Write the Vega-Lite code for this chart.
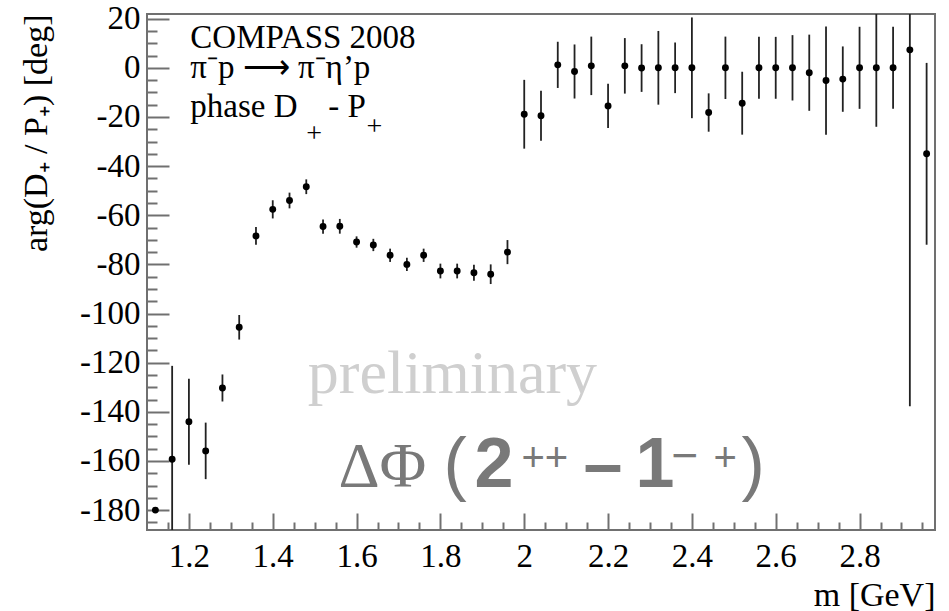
{
  "$schema": "https://vega.github.io/schema/vega-lite/v6.json",
  "width": 788,
  "height": 516,
  "autosize": {"type": "none"},
  "padding": {"left": 147, "top": 14, "right": 14, "bottom": 81},
  "background": "white",
  "config": {
    "view": {"stroke": "#707070", "strokeWidth": 2},
    "font": "Liberation Serif",
    "axis": {"labelFont": "Liberation Serif", "titleFont": "Liberation Serif"}
  },
  "data": {
    "values": [
      {"m": 1.12, "phase": -180, "lo": -180, "hi": -180},
      {"m": 1.16, "phase": -159.3, "lo": -197.3, "hi": -121.3},
      {"m": 1.20, "phase": -144, "lo": -161.5, "hi": -126.5},
      {"m": 1.24, "phase": -155.9, "lo": -167.4, "hi": -144.4},
      {"m": 1.28, "phase": -130.3, "lo": -135.8, "hi": -124.8},
      {"m": 1.32, "phase": -105.6, "lo": -110.6, "hi": -100.6},
      {"m": 1.36, "phase": -68.4, "lo": -72.0, "hi": -64.8},
      {"m": 1.40, "phase": -57.6, "lo": -61.3, "hi": -53.9},
      {"m": 1.44, "phase": -54.0, "lo": -57.2, "hi": -50.8},
      {"m": 1.48, "phase": -48.4, "lo": -51.4, "hi": -45.4},
      {"m": 1.52, "phase": -64.6, "lo": -67.5, "hi": -61.7},
      {"m": 1.56, "phase": -64.5, "lo": -67.5, "hi": -61.5},
      {"m": 1.60, "phase": -70.9, "lo": -73.2, "hi": -68.6},
      {"m": 1.64, "phase": -72.1, "lo": -74.6, "hi": -69.6},
      {"m": 1.68, "phase": -76.3, "lo": -79.0, "hi": -73.6},
      {"m": 1.72, "phase": -80.0, "lo": -82.7, "hi": -77.3},
      {"m": 1.76, "phase": -76.3, "lo": -79.0, "hi": -73.6},
      {"m": 1.80, "phase": -82.7, "lo": -85.7, "hi": -79.7},
      {"m": 1.84, "phase": -82.7, "lo": -85.7, "hi": -79.7},
      {"m": 1.88, "phase": -83.4, "lo": -86.7, "hi": -80.1},
      {"m": 1.92, "phase": -84.0, "lo": -88.0, "hi": -80.0},
      {"m": 1.96, "phase": -75.0, "lo": -79.9, "hi": -70.1},
      {"m": 2.00, "phase": -18.9, "lo": -32.9, "hi": -4.9},
      {"m": 2.04, "phase": -19.5, "lo": -29.7, "hi": -9.3},
      {"m": 2.08, "phase": 1.2, "lo": -8.2, "hi": 10.6},
      {"m": 2.12, "phase": -1.5, "lo": -12.5, "hi": 9.5},
      {"m": 2.16, "phase": 0.8, "lo": -11.1, "hi": 12.7},
      {"m": 2.20, "phase": -15.5, "lo": -24.5, "hi": -6.5},
      {"m": 2.24, "phase": 0.8, "lo": -10.5, "hi": 12.1},
      {"m": 2.28, "phase": -0.1, "lo": -9.8, "hi": 9.6},
      {"m": 2.32, "phase": 0, "lo": -15, "hi": 15},
      {"m": 2.36, "phase": 0, "lo": -10.3, "hi": 10.3},
      {"m": 2.40, "phase": 0, "lo": -20.5, "hi": 20.5},
      {"m": 2.44, "phase": -18.2, "lo": -26.0, "hi": -10.4},
      {"m": 2.48, "phase": 0, "lo": -12.7, "hi": 12.7},
      {"m": 2.52, "phase": -14.4, "lo": -27.2, "hi": -1.6},
      {"m": 2.56, "phase": 0, "lo": -12.6, "hi": 12.6},
      {"m": 2.60, "phase": 0, "lo": -12.6, "hi": 12.6},
      {"m": 2.64, "phase": 0, "lo": -13.3, "hi": 13.3},
      {"m": 2.68, "phase": -2.0, "lo": -17.5, "hi": 13.5},
      {"m": 2.72, "phase": -5.2, "lo": -27.2, "hi": 16.8},
      {"m": 2.76, "phase": -4.6, "lo": -17.9, "hi": 8.7},
      {"m": 2.80, "phase": 0, "lo": -16.7, "hi": 16.7},
      {"m": 2.84, "phase": 0, "lo": -24, "hi": 24},
      {"m": 2.88, "phase": 0, "lo": -16.7, "hi": 16.7},
      {"m": 2.92, "phase": 7.3, "lo": -137.7, "hi": 152.3},
      {"m": 2.96, "phase": -35.0, "lo": -72.0, "hi": 2.0}
    ]
  },
  "layer": [
    {
      "layer": [
        {
          "mark": {"type": "rule", "clip": true, "color": "#222222", "strokeWidth": 1.8},
          "encoding": {
            "x": {
              "field": "m", "type": "quantitative",
              "scale": {"domain": [1.1, 2.98], "nice": false, "zero": false},
              "axis": {
                "orient": "bottom",
                "values": [1.2, 1.4, 1.6, 1.8, 2, 2.2, 2.4, 2.6, 2.8],
                "labelExpr": "'' + datum.value",
                "tickSize": -17, "tickColor": "#707070", "tickWidth": 2,
                "domain": false, "grid": false,
                "labelFont": "Liberation Serif", "labelFontSize": 33, "labelColor": "black",
                "labelPadding": 27, "labelFlush": false, "labelOverlap": false, "labelBound": false,
                "title": "m [GeV]", "titleFont": "Liberation Serif", "titleFontSize": 34,
                "titleFontWeight": "normal", "titleColor": "black",
                "titleAnchor": "end", "titleAlign": "right", "titleBaseline": "alphabetic",
                "titleX": 788, "titleY": 75
              }
            },
            "y": {
              "field": "lo", "type": "quantitative",
              "scale": {"domain": [-188.1, 21.9], "nice": false, "zero": false},
              "axis": {
                "orient": "left",
                "values": [-180, -160, -140, -120, -100, -80, -60, -40, -20, 0, 20],
                "labelExpr": "'' + datum.value",
                "tickSize": -22, "tickColor": "#707070", "tickWidth": 2,
                "domain": false, "grid": false,
                "labelFont": "Liberation Serif", "labelFontSize": 33, "labelColor": "black",
                "labelPadding": 29, "labelFlush": false, "labelOverlap": false, "labelBound": false,
                "title": "arg(D₊ / P₊) [deg]", "titleFont": "Liberation Serif", "titleFontSize": 34,
                "titleFontWeight": "normal", "titleColor": "black",
                "titleAngle": -90, "titleAlign": "right", "titleBaseline": "alphabetic",
                "titleX": -101, "titleY": 0
              }
            },
            "y2": {"field": "hi"}
          }
        },
        {
          "mark": {"type": "circle", "size": 48, "color": "black", "opacity": 1, "clip": true},
          "encoding": {
            "x": {"field": "m", "type": "quantitative"},
            "y": {"field": "phase", "type": "quantitative"}
          }
        },
        {
          "data": {"values": [{"label": "one"}]},
          "layer": [
            {
              "mark": {"type": "text", "text": "COMPASS 2008", "font": "Liberation Serif", "fontSize": 33, "align": "left", "baseline": "alphabetic", "color": "black"},
              "encoding": {"x": {"datum": 1.2033}, "y": {"datum": 8.1}}
            },
            {
              "mark": {"type": "text", "text": "π⁻p ⟶ π⁻η’p", "font": "Liberation Serif", "fontSize": 33, "align": "left", "baseline": "alphabetic", "color": "black"},
              "encoding": {"x": {"datum": 1.2033}, "y": {"datum": -4.1}}
            },
            {
              "mark": {"type": "text", "text": "phase D", "font": "Liberation Serif", "fontSize": 33, "align": "left", "baseline": "alphabetic", "color": "black"},
              "encoding": {"x": {"datum": 1.2033}, "y": {"datum": -19.9}}
            },
            {
              "mark": {"type": "text", "text": "+", "font": "Liberation Serif", "fontSize": 28, "align": "left", "baseline": "alphabetic", "color": "black"},
              "encoding": {"x": {"datum": 1.4802}, "y": {"datum": -30.1}}
            },
            {
              "mark": {"type": "text", "text": "- P", "font": "Liberation Serif", "fontSize": 33, "align": "left", "baseline": "alphabetic", "color": "black"},
              "encoding": {"x": {"datum": 1.5327}, "y": {"datum": -19.9}}
            },
            {
              "mark": {"type": "text", "text": "+", "font": "Liberation Serif", "fontSize": 28, "align": "left", "baseline": "alphabetic", "color": "black"},
              "encoding": {"x": {"datum": 1.6234}, "y": {"datum": -27.3}}
            },
            {
              "mark": {"type": "text", "text": "preliminary", "font": "Liberation Serif", "fontSize": 62, "align": "center", "baseline": "alphabetic", "color": "#cfcfcf"},
              "encoding": {"x": {"datum": 1.8287}, "y": {"datum": -132.4}}
            },
            {
              "mark": {"type": "text", "text": "ΔΦ", "font": "Liberation Serif", "fontSize": 64, "align": "left", "baseline": "alphabetic", "color": "#797979"},
              "encoding": {"x": {"datum": 1.5566}, "y": {"datum": -170.6}}
            },
            {
              "mark": {"type": "text", "text": "(", "font": "Liberation Sans", "fontSize": 70, "align": "left", "baseline": "alphabetic", "color": "#797979"},
              "encoding": {"x": {"datum": 1.8072}, "y": {"datum": -170.6}}
            },
            {
              "mark": {"type": "text", "text": "2", "font": "Liberation Sans", "fontWeight": "bold", "fontSize": 70, "align": "left", "baseline": "alphabetic", "color": "#797979"},
              "encoding": {"x": {"datum": 1.8811}, "y": {"datum": -170.6}}
            },
            {
              "mark": {"type": "text", "text": "++", "font": "Liberation Sans", "fontSize": 40, "align": "left", "baseline": "alphabetic", "color": "#797979"},
              "encoding": {"x": {"datum": 1.9933}, "y": {"datum": -164.1}}
            },
            {
              "mark": {"type": "text", "text": "–", "font": "Liberation Sans", "fontWeight": "bold", "fontSize": 70, "align": "left", "baseline": "alphabetic", "color": "#797979"},
              "encoding": {"x": {"datum": 2.1413}, "y": {"datum": -170.6}}
            },
            {
              "mark": {"type": "text", "text": "1", "font": "Liberation Sans", "fontWeight": "bold", "fontSize": 70, "align": "left", "baseline": "alphabetic", "color": "#797979"},
              "encoding": {"x": {"datum": 2.2654}, "y": {"datum": -170.6}}
            },
            {
              "mark": {"type": "text", "text": "−", "font": "Liberation Sans", "fontSize": 46, "align": "left", "baseline": "alphabetic", "color": "#797979"},
              "encoding": {"x": {"datum": 2.3513}, "y": {"datum": -164.1}}
            },
            {
              "mark": {"type": "text", "text": "+", "font": "Liberation Sans", "fontSize": 40, "align": "left", "baseline": "alphabetic", "color": "#797979"},
              "encoding": {"x": {"datum": 2.4515}, "y": {"datum": -164.1}}
            },
            {
              "mark": {"type": "text", "text": ")", "font": "Liberation Sans", "fontSize": 70, "align": "left", "baseline": "alphabetic", "color": "#797979"},
              "encoding": {"x": {"datum": 2.5184}, "y": {"datum": -170.6}}
            }
          ]
        }
      ]
    },
    {
      "mark": {"type": "point", "opacity": 0},
      "encoding": {
        "x": {
          "field": "m", "type": "quantitative",
          "scale": {"domain": [1.1, 2.98], "nice": false, "zero": false},
          "axis": {
            "orient": "bottom",
            "values": [1.15, 1.25, 1.3, 1.35, 1.45, 1.5, 1.55, 1.65, 1.7, 1.75, 1.85, 1.9, 1.95, 2.05, 2.1, 2.15, 2.25, 2.3, 2.35, 2.45, 2.5, 2.55, 2.65, 2.7, 2.75, 2.85, 2.9, 2.95],
            "tickSize": -8, "tickColor": "#707070", "tickWidth": 2,
            "labels": false, "domain": false, "grid": false, "title": null
          }
        },
        "y": {
          "field": "phase", "type": "quantitative",
          "scale": {"domain": [-188.1, 21.9], "nice": false, "zero": false},
          "axis": {
            "orient": "left",
            "values": [-185, -175, -170, -165, -155, -150, -145, -135, -130, -125, -115, -110, -105, -95, -90, -85, -75, -70, -65, -55, -50, -45, -35, -30, -25, -15, -10, -5, 5, 10, 15],
            "tickSize": -10, "tickColor": "#707070", "tickWidth": 2,
            "labels": false, "domain": false, "grid": false, "title": null
          }
        }
      }
    }
  ],
  "resolve": {"scale": {"x": "independent", "y": "independent"}}
}
